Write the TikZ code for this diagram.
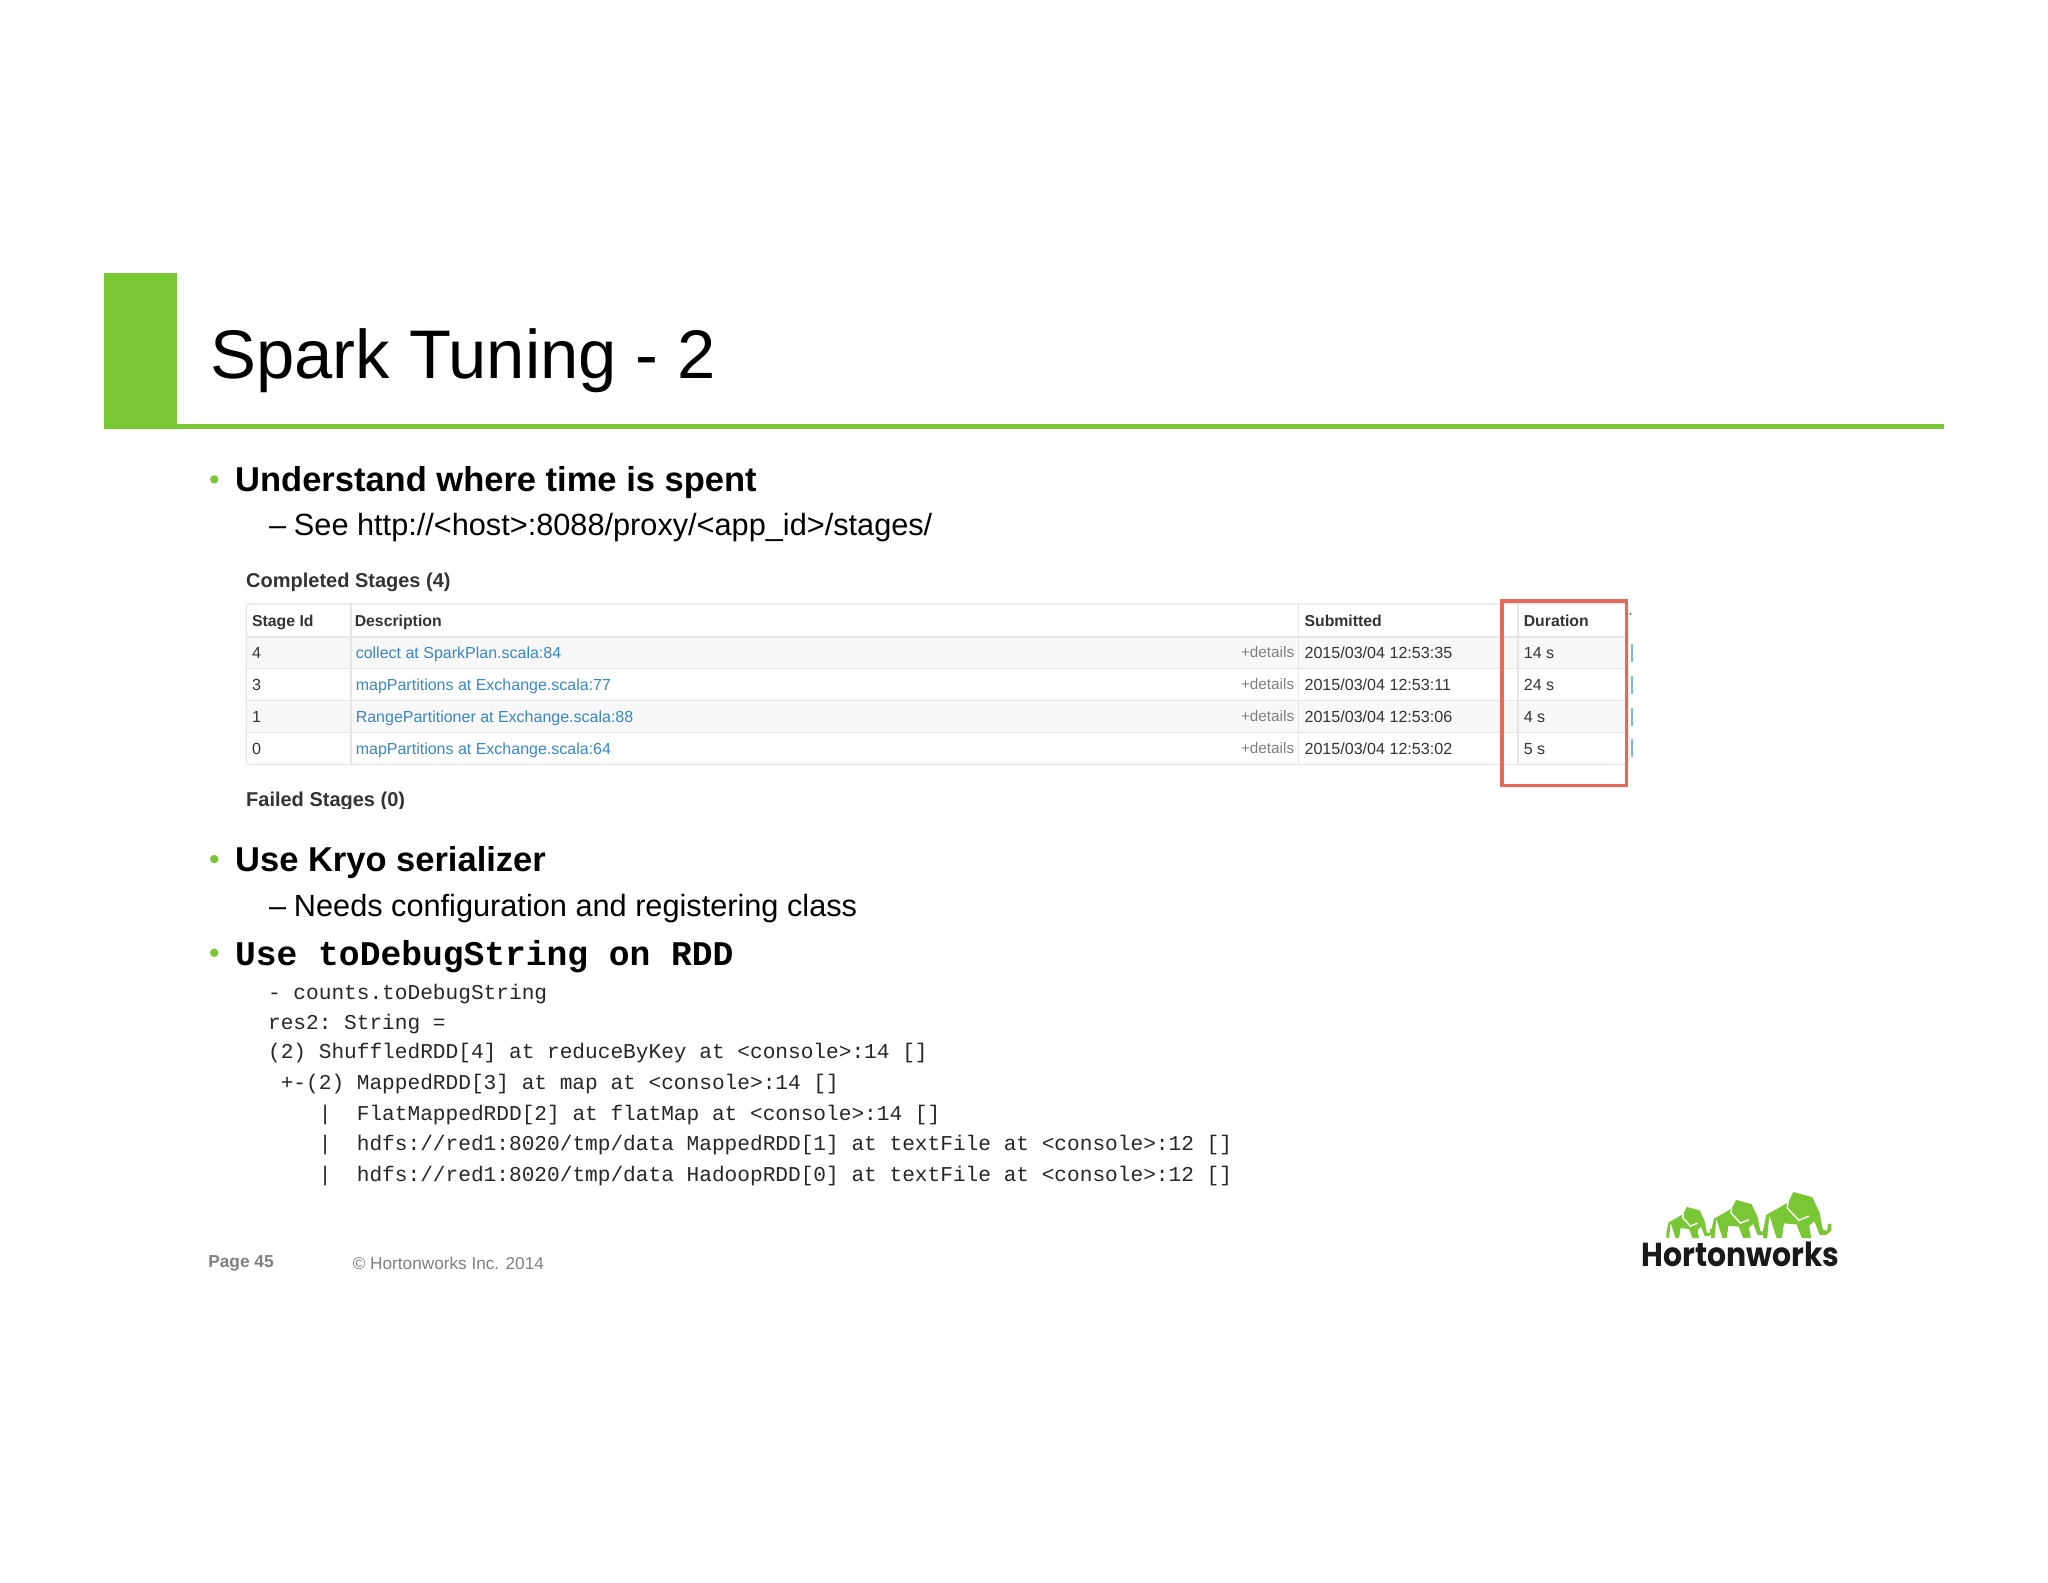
\documentclass[tikz,border=0pt]{standalone}
\usepackage{fontspec}
\setmainfont{Liberation Sans}
\setmonofont{Liberation Mono}
\newfontfamily\logofont{Poppins}
\definecolor{hwgreen}{HTML}{7AC736}
\definecolor{tblline}{HTML}{E6E6E6}
\definecolor{stripe}{HTML}{F8F8F8}
\definecolor{linkblue}{HTML}{3A86C4}
\definecolor{tick}{HTML}{7FB8DC}
\definecolor{hdrtext}{HTML}{333333}
\definecolor{redbox}{HTML}{E8685C}
\definecolor{foot}{HTML}{808080}
\newcommand{\fsz}[1]{\fontsize{#1}{#1}\selectfont}
\tikzset{
  txt/.style={anchor=base west,inner sep=0pt,outer sep=0pt},
  titletxt/.style={txt,text=black,font=\fsz{34.4}},
  lvlone/.style={txt,text=black,font=\bfseries\fsz{17.25}},
  lvltwo/.style={txt,text=black,font=\fsz{15.35}},
  bulletdot/.style={fill=hwgreen,draw=none,circle,inner sep=0pt,minimum size=4.2pt},
  codehead/.style={txt,text=black,font=\ttfamily\bfseries\fsz{17.3}},
  code/.style={txt,text=black!85,font=\ttfamily\fsz{10.57}},
  secthead/.style={txt,text=hdrtext,font=\bfseries\fsz{10.0}},
  thead/.style={txt,text=hdrtext,font=\bfseries\fsz{7.9}},
  tcell/.style={txt,text=hdrtext,font=\fsz{8.05}},
  tlink/.style={txt,text=linkblue,font=\fsz{8.0}},
  tdetail/.style={anchor=base east,inner sep=0pt,text=foot,font=\fsz{7.65}},
  footb/.style={txt,text=foot,font=\bfseries\fsz{8.65}},
  footn/.style={txt,text=foot,font=\fsz{8.6}},
  logotxt/.style={txt,text=black!90,font=\logofont\bfseries\fsz{16.6},xscale=0.9},
}
\newcommand{\elephant}[3]{% x y scale
 \begin{scope}[shift={(#1,#2)},x=#3*0.5pt,y=-#3*0.5pt]
  \fill[hwgreen] (0,37) -- (3,22) -- (24,10) -- (29,0) -- (47,5) -- (54,20) -- (57,36) -- (61,37) -- (62,31) -- (65,30) -- (65,37) -- (60,41) -- (54,41) -- (49,28) -- (44,32) -- (46,44) -- (37,44) -- (32,31) -- (20,30) -- (18,44) -- (13,44) -- (6,22) -- (4,44) -- (0,44) -- cycle;
  \draw[white,line width=0.7pt] (24,10) -- (23,15) -- (34,27) -- (44,23);
  \fill[white] (52,11) circle (1);
 \end{scope}}
\begin{document}
\begin{tikzpicture}[x=0.4983pt,y=-0.4983pt]
\useasboundingbox (0,0) rectangle (2055,1587.4);
\fill[white] (0,0) rectangle (2055,1587.4);
% header
\fill[hwgreen] (104,274) rectangle (178,430);
\fill[hwgreen] (178,425) rectangle (1951,430);
\node[titletxt] (title) at (211,380) {Spark Tuning - 2};
% bullets
\node[bulletdot] (b1) at (215,481) {};
\node[lvlone] (t1) at (236,493) {Understand where time is spent};
\node[lvltwo] (d1) at (270,537) {–};
\node[lvltwo] (t1a) at (295,537) {See http://<host>:8088/proxy/<app\_id>/stages/};
% screenshot
\node[secthead] (comp) at (247,589) {Completed Stages (4)};
\fill[stripe] (247,639) rectangle (1634,671);
\fill[stripe] (247,703) rectangle (1634,735);
\draw[tblline,line width=0.6pt,rounded corners=2pt] (247,606) rectangle (1634,767);
\foreach \yy in {639,671,703,735} \draw[tblline,line width=0.7pt] (247,\yy) -- (1634,\yy);
\foreach \xx in {352,1303,1523} \draw[tblline,line width=0.7pt] (\xx,606) -- (\xx,767);
\node[thead] (h1) at (253,629) {Stage Id};
\node[thead] (h2) at (356,629) {Description};
\node[thead] (h3) at (1309,629) {Submitted};
\node[thead] (h4) at (1529,629) {Duration};
\node[tcell] (r1a) at (253,661) {4};
\node[tcell] (r2a) at (253,693) {3};
\node[tcell] (r3a) at (253,725) {1};
\node[tcell] (r4a) at (253,757) {0};
\node[tlink] (r1b) at (357,661) {collect at SparkPlan.scala:84};
\node[tlink] (r2b) at (357,693) {mapPartitions at Exchange.scala:77};
\node[tlink] (r3b) at (357,725) {RangePartitioner at Exchange.scala:88};
\node[tlink] (r4b) at (357,757) {mapPartitions at Exchange.scala:64};
\node[tdetail] (r1c) at (1299,660) {+details};
\node[tdetail] (r2c) at (1299,692) {+details};
\node[tdetail] (r3c) at (1299,724) {+details};
\node[tdetail] (r4c) at (1299,756) {+details};
\node[tcell] (r1d) at (1309,661) {2015/03/04 12:53:35};
\node[tcell] (r2d) at (1309,693) {2015/03/04 12:53:11};
\node[tcell] (r3d) at (1309,725) {2015/03/04 12:53:06};
\node[tcell] (r4d) at (1309,757) {2015/03/04 12:53:02};
\node[tcell] (r1e) at (1529,661) {14 s};
\node[tcell] (r2e) at (1529,693) {24 s};
\node[tcell] (r3e) at (1529,725) {4 s};
\node[tcell] (r4e) at (1529,757) {5 s};
\foreach \yy in {646,678,710,742} \draw[tick,line width=1pt] (1638,\yy) -- (1638,\yy+18);
\fill[black!70] (1636,616) circle (1);
\draw[redbox,line width=1.7pt] (1507,603) rectangle (1632,788);
\begin{scope}
 \clip (240,780) rectangle (500,811);
 \node[secthead] (fail) at (247,809) {Failed Stages (0)};
\end{scope}
% kryo
\node[bulletdot] (b2) at (215,862) {};
\node[lvlone] (t2) at (236,874) {Use Kryo serializer};
\node[lvltwo] (d2) at (270,920) {–};
\node[lvltwo] (t2a) at (295,920) {Needs configuration and registering class};
% debug
\node[bulletdot] (b3) at (215,956) {};
\node[codehead] (t3) at (236,969) {Use toDebugString on RDD};
\node[code] (c0) at (269,1002.5) {-~counts.toDebugString};
\node[code] (c1) at (269,1032.5) {res2:~String~=};
\node[code] (c2) at (269,1062.5) {(2)~ShuffledRDD[4]~at~reduceByKey~at~<console>:14~[]};
\node[code] (c3) at (269,1093.5) {~+-(2)~MappedRDD[3]~at~map~at~<console>:14~[]};
\node[code] (c4) at (269,1124.5) {~~~~|~~FlatMappedRDD[2]~at~flatMap~at~<console>:14~[]};
\node[code] (c5) at (269,1154.5) {~~~~|~~hdfs://red1:8020/tmp/data~MappedRDD[1]~at~textFile~at~<console>:12~[]};
\node[code] (c6) at (269,1185.5) {~~~~|~~hdfs://red1:8020/tmp/data~HadoopRDD[0]~at~textFile~at~<console>:12~[]};
% footer
\node[footb] (pg) at (209,1272) {Page 45};
\node[footn] (cr) at (354,1274) {© Hortonworks Inc. 2014};
% logo
\elephant{1672}{1211}{0.71}
\elephant{1717}{1204}{0.86}
\elephant{1769}{1196}{1.05}
\node[logotxt] (logo) at (1647,1271) {Hortonworks};
\end{tikzpicture}
\end{document}
